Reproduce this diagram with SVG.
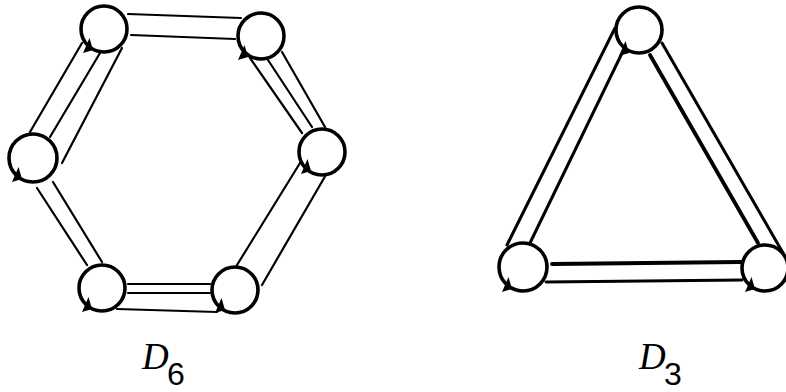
<svg xmlns="http://www.w3.org/2000/svg" xmlns:xlink="http://www.w3.org/1999/xlink" width="786" height="392" viewBox="0 0 786 392">
<style>
.node{fill:#fff;stroke:#000;stroke-width:3.6}
.e{stroke:#000;stroke-width:2.2;fill:none;stroke-linecap:round}
.t{stroke:#000;stroke-width:3;fill:none;stroke-linecap:round}
.tk{stroke-width:3.8}
.ah{fill:#000}
.lab{font-family:"Liberation Serif",serif;font-style:italic;font-size:37px;fill:#000}
.sub{font-family:"Liberation Sans",sans-serif;font-size:32px;fill:#000}
</style>
<defs>
<path id="ah" d="M0,0 L6.5,-15 L10,-3 Z"/>
</defs>
<rect width="786" height="392" fill="#fff"/>
<g id="connectors">
<!-- hexagon -->
<line class="e" x1="128" y1="14" x2="241" y2="18"/>
<line class="e" x1="131" y1="35" x2="235" y2="39"/>
<line class="e" x1="30" y1="132" x2="82" y2="43"/>
<line class="e" x1="50" y1="137" x2="100" y2="53"/>
<line class="e" x1="62" y1="163" x2="122" y2="48"/>
<line class="e" x1="250" y1="58" x2="302" y2="133"/>
<line class="e" x1="268" y1="60" x2="312" y2="127"/>
<line class="e" x1="282" y1="52" x2="325" y2="127"/>
<line class="e" x1="237" y1="265" x2="300" y2="163"/>
<line class="e" x1="262" y1="285" x2="327" y2="173"/>
<line class="e" x1="128" y1="284" x2="210" y2="284"/>
<line class="e" x1="128" y1="293" x2="210" y2="293"/>
<line class="e" x1="117" y1="309" x2="217" y2="312"/>
<line class="e" x1="37" y1="188" x2="87" y2="265"/>
<line class="e" x1="53" y1="182" x2="102" y2="262"/>
<!-- triangle -->
<line class="t" x1="507" y1="245" x2="615" y2="28"/>
<line class="t" x1="530" y1="243" x2="625" y2="47"/>
<line class="t" x1="662" y1="43" x2="783" y2="253"/>
<line class="t tk" x1="650" y1="55" x2="758" y2="243"/>
<line class="t tk" x1="552" y1="264" x2="741" y2="262"/>
<line class="t" x1="546" y1="282" x2="742" y2="280"/>
</g>
<g id="hex-n1"><circle class="node" cx="104" cy="29" r="23"/><use class="ah" href="#ah" x="83" y="53"/></g>
<g id="hex-n2"><circle class="node" cx="261" cy="36" r="23"/><use class="ah" href="#ah" x="238" y="60"/></g>
<g id="hex-n3"><circle class="node" cx="322" cy="152" r="23"/><use class="ah" href="#ah" x="301" y="174"/></g>
<g id="hex-n4"><circle class="node" cx="235" cy="290" r="23"/><use class="ah" href="#ah" x="215" y="313"/></g>
<g id="hex-n5"><circle class="node" cx="102" cy="288" r="23"/><use class="ah" href="#ah" x="82" y="312"/></g>
<g id="hex-n6"><circle class="node" cx="33" cy="158" r="24"/><use class="ah" href="#ah" x="12" y="182"/></g>
<g id="tri-n1"><circle class="node" cx="639" cy="30" r="23"/><use class="ah" href="#ah" x="619" y="56"/></g>
<g id="tri-n2"><circle class="node" cx="523" cy="267" r="24"/><use class="ah" href="#ah" x="502" y="292"/></g>
<g id="tri-n3"><circle class="node" cx="765" cy="268" r="23"/><use class="ah" href="#ah" x="745" y="292"/></g>
<g id="label-d6"><text class="lab" x="142" y="369">D</text><text class="sub" x="167" y="385">6</text></g>
<g id="label-d3"><text class="lab" x="639" y="369">D</text><text class="sub" x="664" y="385">3</text></g>
</svg>
